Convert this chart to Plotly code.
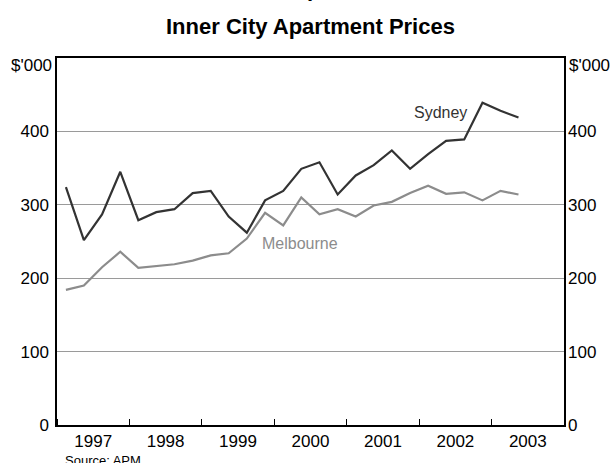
import pandas as pd
import plotly.graph_objects as go

# Quarterly data, 1997 Q1 to 2003 Q2 ($'000)
quarters = pd.period_range("1997Q1", "2003Q2", freq="Q")
sydney = [324, 252, 287, 345, 279, 290, 294, 316, 319, 284, 262, 306, 319,
          349, 358, 314, 340, 354, 374, 349, 369, 387, 389, 439, 428, 419]
melbourne = [184, 190, 215, 236, 214, 217, 219, 224, 231, 234, 254, 289, 272,
             310, 287, 294, 284, 299, 304, 316, 326, 315, 317, 306, 319, 314]
y_ticks = [0, 100, 200, 300, 400]

x_mid = [p.start_time + (p.end_time - p.start_time) / 2 for p in quarters]

FONT = "Liberation Sans, Arial, sans-serif"
PLOT_TOP, PLOT_BOTTOM = 58, 428
PLOT_H = PLOT_BOTTOM - PLOT_TOP
PLOT_LEFT, PLOT_W = 57, 507


def py(pix):
    """page pixel row -> paper y"""
    return (PLOT_BOTTOM - pix) / PLOT_H


fig = go.Figure()
fig.add_trace(go.Scatter(x=x_mid, y=melbourne, mode="lines", name="Melbourne",
                         line=dict(color="#8c8c8c", width=2.2), yaxis="y2"))
fig.add_trace(go.Scatter(x=x_mid, y=sydney, mode="lines", name="Sydney",
                         line=dict(color="#333333", width=2.2)))

fig.update_layout(
    width=610, height=463,
    margin=dict(l=PLOT_LEFT, r=610 - PLOT_LEFT - PLOT_W, t=PLOT_TOP,
                b=463 - PLOT_BOTTOM),
    paper_bgcolor="white", plot_bgcolor="white",
    showlegend=False,
    font=dict(family=FONT, size=17, color="black"),
    xaxis=dict(type="date", range=["1997-01-01", "2004-01-01"],
               tick0="1997-01-01", dtick="M12", tickformat="%Y",
               ticklabelmode="period", ticks="inside", ticklen=6,
               tickcolor="black", tickwidth=1.3,
               showgrid=False, zeroline=False,
               showline=True, linecolor="black", linewidth=1.5, mirror=True,
               tickfont=dict(size=17)),
    yaxis=dict(range=[0, 500], tickvals=y_ticks, showgrid=True,
               gridcolor="#9a9a9a", gridwidth=1.2, zeroline=False,
               showline=True, linecolor="black", linewidth=1.5, mirror=True,
               ticks="", ticklabelstandoff=3, tickfont=dict(size=17)),
    yaxis2=dict(range=[0, 500], tickvals=y_ticks, overlaying="y", side="right",
                matches="y", showgrid=False, zeroline=False, showline=False,
                ticks="", ticklabelstandoff=3, tickfont=dict(size=17)),
)

annotations = [
    dict(text="<b>Graph 4</b>", x=0.5, xref="paper", y=py(3), yref="paper",
         yanchor="bottom", showarrow=False, font=dict(size=22)),
    dict(text="<b>Inner City Apartment Prices</b>", x=0.5, xref="paper",
         y=py(26), yref="paper", yanchor="middle", showarrow=False,
         font=dict(size=22)),
    dict(text="$'000", x=0, xref="paper", xanchor="right", xshift=-3,
         y=py(66), yref="paper", yanchor="middle", showarrow=False),
    dict(text="$'000", x=1, xref="paper", xanchor="left", xshift=3,
         y=py(66), yref="paper", yanchor="middle", showarrow=False),
    dict(text="Sydney", x="2002-04-16", y=426, xref="x", yref="y",
         showarrow=False, font=dict(color="#333333", size=16)),
    dict(text="Melbourne", x="2000-05-12", y=247, xref="x", yref="y",
         showarrow=False, font=dict(color="#8c8c8c", size=16)),
    dict(text="Source: APM", x=(63 - PLOT_LEFT) / PLOT_W, xref="paper",
         xanchor="left", y=py(454), yref="paper", yanchor="top",
         showarrow=False, font=dict(size=13)),
]
fig.update_layout(annotations=annotations)

fig.write_html("out.html", config={"displayModeBar": False},
               post_script="document.body.style.margin='0';"
                           "document.body.style.overflow='hidden';")
